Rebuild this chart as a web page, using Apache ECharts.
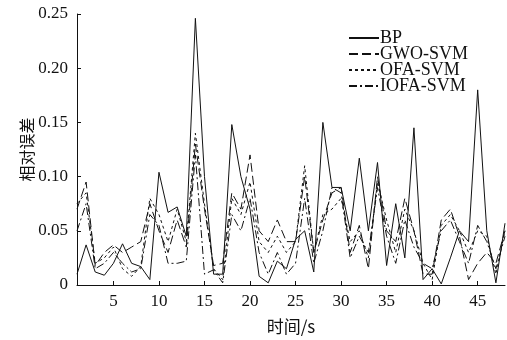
<!DOCTYPE html>
<html>
<head>
<meta charset="UTF-8">
<title>relative error</title>
<script src="https://cdn.jsdelivr.net/npm/echarts@6/dist/echarts.min.js"></script>
<style>
  html, body { margin: 0; padding: 0; background: #fff; }
  #chart { width: 507px; height: 340px; }
</style>
</head>
<body>
<div id="chart"></div>
<script>
// 时间 1..48 s
var times = [];
for (var t = 1; t <= 48; t++) times.push(t);

var bp     = [0.010,0.037,0.012,0.009,0.020,0.038,0.020,0.017,0.005,0.104,0.067,0.072,0.045,0.246,0.100,0.010,0.010,0.148,0.100,0.070,0.008,0.002,0.022,0.015,0.042,0.050,0.012,0.150,0.090,0.090,0.050,0.117,0.050,0.113,0.018,0.075,0.025,0.145,0.005,0.015,0.001,0.025,0.050,0.040,0.180,0.050,0.002,0.057];
var gwoSvm = [0.070,0.095,0.018,0.030,0.037,0.030,0.035,0.040,0.075,0.050,0.030,0.060,0.035,0.130,0.070,0.018,0.020,0.085,0.070,0.120,0.050,0.040,0.060,0.040,0.040,0.100,0.030,0.060,0.085,0.090,0.030,0.055,0.015,0.100,0.050,0.040,0.080,0.050,0.010,0.010,0.060,0.070,0.045,0.005,0.020,0.030,0.020,0.050];
var ofaSvm = [0.075,0.085,0.020,0.025,0.035,0.015,0.008,0.017,0.080,0.065,0.040,0.070,0.040,0.140,0.075,0.015,0.005,0.080,0.065,0.095,0.040,0.030,0.045,0.030,0.040,0.110,0.030,0.065,0.070,0.080,0.040,0.050,0.025,0.095,0.060,0.030,0.070,0.050,0.020,0.005,0.055,0.065,0.050,0.030,0.050,0.045,0.010,0.050];
var iofaSvm = [0.050,0.075,0.015,0.020,0.030,0.020,0.012,0.015,0.065,0.055,0.020,0.020,0.022,0.120,0.010,0.014,0.002,0.065,0.050,0.080,0.030,0.010,0.030,0.010,0.020,0.080,0.020,0.050,0.090,0.085,0.025,0.045,0.030,0.090,0.045,0.020,0.060,0.035,0.020,0.015,0.050,0.060,0.040,0.020,0.055,0.040,0.015,0.045];

var xTicks = [5,10,15,20,25,30,35,40,45];

var names = ['BP','GWO-SVM','OFA-SVM','IOFA-SVM'];
var values = [bp, gwoSvm, ofaSvm, iofaSvm];
var dashes = ['solid', [9,4], [3,3], [8,3,2,3]];

function pairs(arr){
  var out = [];
  for (var i = 0; i < arr.length; i++) out.push([times[i], arr[i]]);
  return out;
}

var series = [];
for (var k = 0; k < names.length; k++) {
  series.push({
    name: names[k],
    type: 'line',
    data: pairs(values[k]),
    symbol: 'none',
    color: '#111',
    lineStyle: { color: '#111', width: 1, type: dashes[k] }
  });
}

var serif = '"Liberation Serif", "Times New Roman", serif';
var cjk = '"Noto Sans CJK SC", sans-serif';

var myChart = echarts.init(document.getElementById('chart'));
var option = {
  animation: false,
  grid: { left: 77, right: 2, top: 14, bottom: 47 },
  legend: {
    orient: 'vertical',
    left: 343,
    top: 24,
    itemWidth: 30,
    itemHeight: 10,
    itemGap: -2,
    itemStyle: { opacity: 0 },
    textStyle: { fontFamily: serif, fontSize: 18, lineHeight: 16, color: '#111', padding: [0, 0, 0, -4] },
    data: names
  },
  xAxis: {
    type: 'value',
    min: 1,
    max: 48,
    name: '时间/s',
    nameLocation: 'middle',
    nameGap: 33,
    nameTextStyle: { fontFamily: cjk, fontSize: 17, color: '#111' },
    axisLine: { lineStyle: { color: '#111' } },
    axisTick: { inside: true, length: 4, customValues: xTicks, lineStyle: { color: '#111' } },
    axisLabel: { customValues: xTicks, fontFamily: serif, fontSize: 17, color: '#111', margin: 8 },
    splitLine: { show: false }
  },
  yAxis: {
    type: 'value',
    min: 0,
    max: 0.25,
    interval: 0.05,
    name: '相对误差',
    nameLocation: 'middle',
    nameGap: 42,
    nameMoveOverlap: false,
    nameTextStyle: { fontFamily: cjk, fontSize: 16, color: '#111' },
    axisLine: { show: true, lineStyle: { color: '#111' } },
    axisTick: { show: true, inside: true, length: 4, lineStyle: { color: '#111' } },
    axisLabel: {
      fontFamily: serif, fontSize: 17, color: '#111', margin: 9,
      formatter: function (v) { return v === 0 ? '0' : v.toFixed(2); }
    },
    splitLine: { show: false }
  },
  series: series
};
myChart.setOption(option);
</script>
</body>
</html>
